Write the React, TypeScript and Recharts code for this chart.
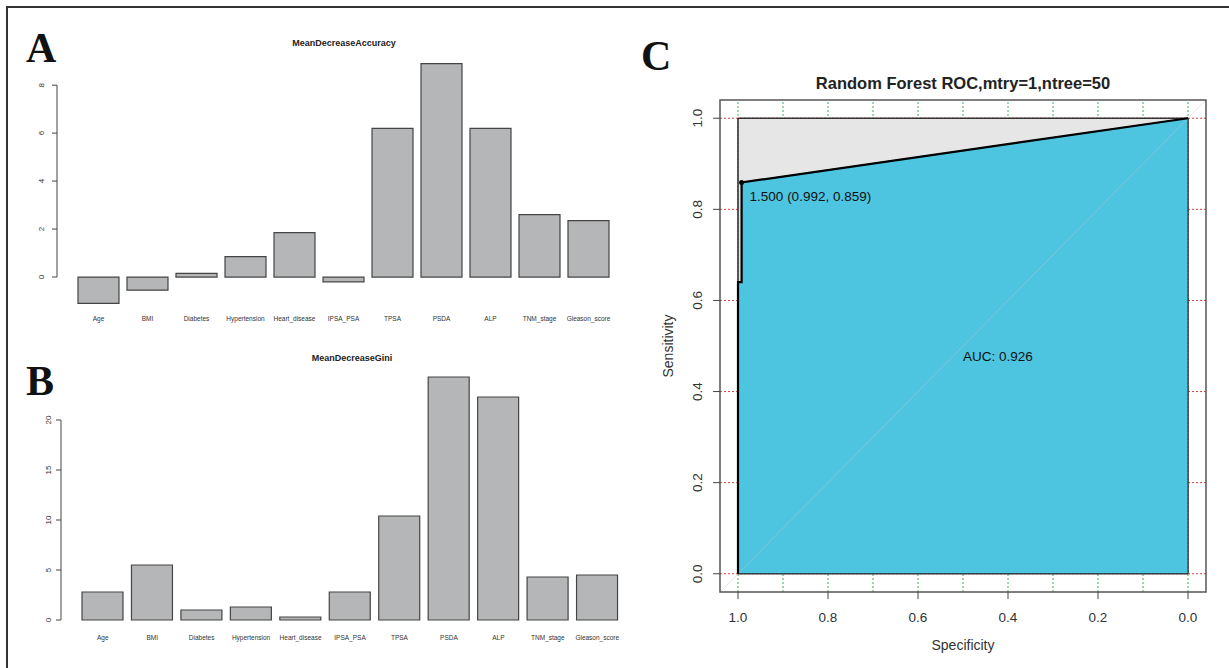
import React from "react";
import {
  Area,
  Bar,
  BarChart,
  ComposedChart,
  Line,
  ReferenceArea,
  ReferenceDot,
  ReferenceLine,
  XAxis,
  YAxis,
} from "recharts";

// panel A / B: random forest variable importance
const features = [
  "Age",
  "BMI",
  "Diabetes",
  "Hypertension",
  "Heart_disease",
  "IPSA_PSA",
  "TPSA",
  "PSDA",
  "ALP",
  "TNM_stage",
  "Gleason_score",
];
const meanDecreaseAccuracy = [-1.1, -0.55, 0.15, 0.85, 1.85, -0.2, 6.2, 8.9, 6.2, 2.6, 2.35];
const meanDecreaseGini = [2.8, 5.5, 1.0, 1.3, 0.3, 2.8, 10.4, 24.3, 22.3, 4.3, 4.5];
const accuracyTicks = [0, 2, 4, 6, 8];
const giniTicks = [0, 5, 10, 15, 20];

// panel C: ROC curve
const rocSpecificity = [1, 1, 0.992, 0.992, 0];
const rocSensitivity = [0, 0.64, 0.64, 0.859, 1];
const bestThreshold = 1.5;
const bestSpecificity = 0.992;
const bestSensitivity = 0.859;
const aucValue = 0.926;
const rocTicks = [0, 0.2, 0.4, 0.6, 0.8, 1];
const specGrid = [0, 0.1, 0.2, 0.3, 0.4, 0.5, 0.6, 0.7, 0.8, 0.9, 1];
const sensGrid = [0, 0.2, 0.4, 0.6, 0.8, 1];

const SANS = "'Liberation Sans', Arial, sans-serif";
const SERIF = "'Liberation Serif', 'Times New Roman', serif";

function rotTick(off: number, size: number, fmt: (v: number) => string) {
  return (p: any) => {
    const tx = p.x - off;
    return (
      <text
        x={tx}
        y={p.y}
        transform={`rotate(-90, ${tx}, ${p.y})`}
        textAnchor="middle"
        fontSize={size}
        fontFamily={SANS}
        fill="#333"
      >
        {fmt(p.payload.value)}
      </text>
    );
  };
}

function featureTick(dy: number) {
  return (p: any) => (
    <text x={p.x} y={p.y + dy} textAnchor="middle" fontSize={6.5} fontFamily={SANS} fill="#333">
      {p.payload.value}
    </text>
  );
}

interface BarPanelProps {
  values: number[];
  ticks: number[];
  domain: [number, number];
  width: number;
  height: number;
  top: number;
  right: number;
  yAxisWidth: number;
  xAxisHeight: number;
  pad: number;
  barSize: number;
  tickOff: number;
  labelDy: number;
}

function BarPanel(props: BarPanelProps) {
  const data = features.map((name, i) => ({ name, value: props.values[i] }));
  const t = props.ticks;
  return (
    <BarChart
      width={props.width}
      height={props.height}
      data={data}
      margin={{ top: props.top, right: props.right, bottom: 0, left: 0 }}
    >
      <XAxis
        dataKey="name"
        interval={0}
        axisLine={false}
        tickLine={false}
        tickSize={0}
        tickMargin={0}
        height={props.xAxisHeight}
        padding={{ left: props.pad, right: props.pad }}
        tick={featureTick(props.labelDy)}
      />
      <XAxis xAxisId="edge" type="number" domain={[0, 1]} allowDataOverflow hide />
      <YAxis
        domain={props.domain}
        ticks={t}
        allowDataOverflow
        width={props.yAxisWidth}
        axisLine={false}
        tickSize={5}
        tickMargin={0}
        tickLine={{ stroke: "#444" }}
        tick={rotTick(props.tickOff, 8, (v) => String(v))}
      />
      <ReferenceLine
        xAxisId="edge"
        segment={[
          { x: 0, y: t[0] },
          { x: 0, y: t[t.length - 1] },
        ]}
        stroke="#444"
        ifOverflow="visible"
      />
      <Bar
        dataKey="value"
        fill="#b4b6b7"
        stroke="#454545"
        strokeWidth={1.2}
        barSize={props.barSize}
        isAnimationActive={false}
      />
    </BarChart>
  );
}

function RocPanel() {
  const data = rocSpecificity.map((spec, i) => ({ spec, sens: rocSensitivity[i] }));
  const thrLabel = `${bestThreshold.toFixed(3)} (${bestSpecificity.toFixed(3)}, ${bestSensitivity.toFixed(3)})`;
  return (
    <ComposedChart width={589} height={668} data={data} margin={{ top: 100, right: 23, bottom: 0, left: 0 }}>
      <XAxis
        dataKey="spec"
        type="number"
        reversed
        domain={[-0.04, 1.04]}
        allowDataOverflow
        ticks={rocTicks}
        height={76}
        axisLine={false}
        tickSize={7}
        tickMargin={13}
        tickLine={{ stroke: "#444" }}
        tick={{ fontSize: 13.5, fontFamily: SANS, fill: "#333" }}
        tickFormatter={(v: number) => v.toFixed(1)}
        label={{
          value: "Specificity",
          position: "insideBottom",
          offset: 18,
          fontSize: 14,
          fontFamily: SANS,
          fill: "#333",
        }}
      />
      <YAxis
        type="number"
        domain={[-0.04, 1.04]}
        allowDataOverflow
        ticks={rocTicks}
        width={80}
        axisLine={false}
        tickSize={7}
        tickMargin={0}
        tickLine={{ stroke: "#444" }}
        tick={rotTick(11, 13.5, (v) => v.toFixed(1))}
      />
      {specGrid.map((v) => (
        <ReferenceLine
          key={"g" + v}
          x={v}
          stroke="#3dae5c"
          strokeDasharray="2 2"
          ifOverflow="visible"
          zIndex={10}
        />
      ))}
      {sensGrid.map((v) => (
        <ReferenceLine
          key={"r" + v}
          y={v}
          stroke="#e03a3e"
          strokeDasharray="2 2"
          ifOverflow="visible"
          zIndex={10}
        />
      ))}
      <ReferenceArea
        x1={0}
        x2={1}
        y1={0}
        y2={1}
        fill="#e6e6e6"
        fillOpacity={1}
        stroke="#333"
        strokeWidth={1}
        ifOverflow="visible"
        zIndex={20}
      />
      <Area
        dataKey="sens"
        type="linear"
        baseValue={0}
        fill="#4dc4e0"
        fillOpacity={1}
        stroke="#222"
        strokeWidth={1}
        dot={false}
        activeDot={false}
        isAnimationActive={false}
        zIndex={30}
      />
      <ReferenceArea
        x1={0}
        x2={1}
        y1={0}
        y2={1}
        fill="none"
        stroke="#222"
        strokeWidth={1}
        ifOverflow="visible"
        zIndex={40}
      />
      <ReferenceLine
        segment={[
          { x: 1.04, y: -0.04 },
          { x: -0.04, y: 1.04 },
        ]}
        stroke="#c8c8c8"
        strokeOpacity={0.45}
        strokeWidth={1}
        ifOverflow="visible"
        zIndex={50}
      />
      <Line
        dataKey="sens"
        type="linear"
        stroke="#000"
        strokeWidth={2.2}
        dot={false}
        activeDot={false}
        isAnimationActive={false}
        zIndex={60}
      />
      <ReferenceDot
        x={bestSpecificity}
        y={bestSensitivity}
        r={2.5}
        ifOverflow="visible"
        zIndex={70}
        shape={(p: any) => (
          <g>
            <circle cx={p.cx} cy={p.cy} r={2.5} fill="#000" />
            <text x={p.cx + 8} y={p.cy + 19} fontSize={13.5} fontFamily={SANS} fill="#111">
              {thrLabel}
            </text>
          </g>
        )}
      />
      <ReferenceDot
        x={0.5}
        y={0.5}
        r={0}
        ifOverflow="visible"
        zIndex={70}
        shape={(p: any) => (
          <text x={p.cx} y={p.cy + 15} fontSize={13.5} fontFamily={SANS} fill="#111">
            {`AUC: ${aucValue.toFixed(3)}`}
          </text>
        )}
      />
      <ReferenceArea
        x1={-0.04}
        x2={1.04}
        y1={-0.04}
        y2={1.04}
        fill="none"
        stroke="#555"
        strokeWidth={1.5}
        ifOverflow="visible"
        zIndex={90}
      />
    </ComposedChart>
  );
}

export default function App() {
  return (
    <div
      style={{
        position: "absolute",
        left: 0,
        top: 0,
        width: 1229,
        height: 668,
        background: "#fff",
        overflow: "hidden",
      }}
    >
      <div
        style={{
          position: "absolute",
          left: 6,
          top: 6,
          width: 1223,
          height: 662,
          borderTop: "2px solid #333",
          borderLeft: "2px solid #333",
          boxSizing: "border-box",
        }}
      />
      <div style={{ position: "absolute", left: 0, top: 0 }}>
        <BarPanel
          values={meanDecreaseAccuracy}
          ticks={accuracyTicks}
          domain={[-1.5, 9.3]}
          width={660}
          height={340}
          top={54}
          right={30}
          yAxisWidth={57}
          xAxisHeight={27}
          pad={17}
          barSize={41}
          tickOff={8}
          labelDy={7.5}
        />
      </div>
      <div style={{ position: "absolute", left: 0, top: 330 }}>
        <BarPanel
          values={meanDecreaseGini}
          ticks={giniTicks}
          domain={[-1, 25.3]}
          width={669}
          height={330}
          top={37}
          right={30}
          yAxisWidth={61}
          xAxisHeight={30}
          pad={17}
          barSize={41}
          tickOff={5}
          labelDy={9.5}
        />
      </div>
      <div style={{ position: "absolute", left: 640, top: 0 }}>
        <RocPanel />
      </div>
      <svg
        width={1229}
        height={668}
        style={{ position: "absolute", left: 0, top: 0, pointerEvents: "none" }}
      >
        <text x={26} y={62} fontFamily={SERIF} fontWeight="bold" fontSize={42} fill="#111">
          A
        </text>
        <text x={26} y={395} fontFamily={SERIF} fontWeight="bold" fontSize={42} fill="#111">
          B
        </text>
        <text x={641} y={70} fontFamily={SERIF} fontWeight="bold" fontSize={42} fill="#111">
          C
        </text>
        <text x={344} y={46} textAnchor="middle" fontFamily={SANS} fontWeight="bold" fontSize={9} fill="#222">
          MeanDecreaseAccuracy
        </text>
        <text x={352} y={361} textAnchor="middle" fontFamily={SANS} fontWeight="bold" fontSize={9} fill="#222">
          MeanDecreaseGini
        </text>
        <text x={963} y={89} textAnchor="middle" fontFamily={SANS} fontWeight="bold" fontSize={16.5} fill="#222">
          Random Forest ROC,mtry=1,ntree=50
        </text>
        <text
          x={673}
          y={346}
          transform="rotate(-90, 673, 346)"
          textAnchor="middle"
          fontFamily={SANS}
          fontSize={14}
          fill="#333"
        >
          Sensitivity
        </text>
      </svg>
    </div>
  );
}
